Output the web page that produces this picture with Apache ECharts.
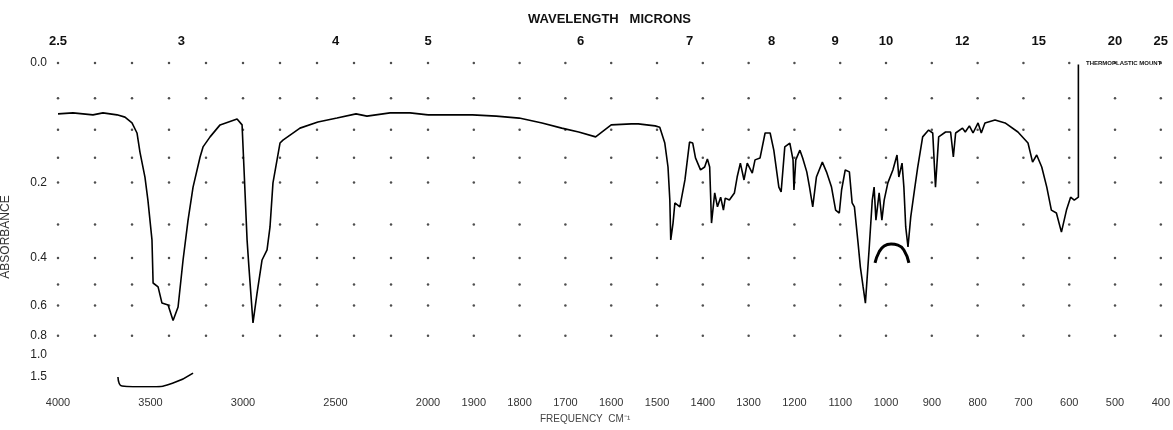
<!DOCTYPE html>
<html><head><meta charset="utf-8">
<script src="https://cdn.jsdelivr.net/npm/echarts@6/dist/echarts.min.js"></script>
<style>html,body{margin:0;padding:0;background:#fff}#c{width:1173px;height:430px}</style>
</head><body><div id="c"></div>
<script>
// Top axis: wavelength (microns)
const wavelengthTicks = [2.5, 3, 4, 5, 6, 7, 8, 9, 10, 12, 15, 20, 25];
// Left axis: absorbance labels (scale is linear in transmittance)
const absorbanceTicks = [0, 0.2, 0.4, 0.6, 0.8, 1.0, 1.5];
// Chart-paper dot grid
const dotFreqHigh = [4000, 3800, 3600, 3400, 3200, 3000, 2800, 2600, 2400, 2200];
const dotFreqLow = [2000, 1900, 1800, 1700, 1600, 1500, 1400, 1300, 1200, 1100, 1000, 900, 800, 700, 600, 500, 400];
const dotAbs = [0, 0.05, 0.1, 0.15, 0.2, 0.3, 0.4, 0.5, 0.6, 0.8];

// Spectrum [frequency cm-1, transmittance %], 4000-2000 section
const spectrumHigh = [[4000,84.3],[3919,84.6],[3811,84.0],[3757,84.6],[3681,84.0],[3638,83.3],[3600,81.5],[3573,78.4],[3557,72.5],[3530,64.8],[3514,57.7],[3492,45.4],[3486,32.1],[3459,30.9],[3438,25.9],[3405,25.3],[3378,20.5],[3351,24.7],[3324,39.2],[3297,51.5],[3270,61.7],[3232,71.0],[3216,74.1],[3178,77.2],[3124,80.9],[3032,82.7],[3005,80.9],[2995,67.9],[2978,45.4],[2968,37.0],[2946,19.8],[2924,29.0],[2897,39.2],[2870,42.3],[2854,49.4],[2838,63.0],[2800,75.3],[2784,76.2],[2692,79.9],[2595,81.8],[2492,83.0],[2389,84.3],[2330,83.6],[2205,84.6],[2097,84.6],[2000,84.0]];
// 2000-400 section
const spectrumLow = [[2000,84.0],[1903,84.0],[1851,83.6],[1801,83.0],[1751,81.5],[1708,79.9],[1671,78.7],[1634,77.2],[1600,80.9],[1556,81.2],[1541,81.2],[1504,80.6],[1494,80.2],[1483,75.3],[1476,67.9],[1472,57.7],[1470,45.4],[1465,50.6],[1461,56.8],[1450,55.6],[1439,63.9],[1429,75.6],[1422,75.3],[1416,70.7],[1405,67.0],[1396,67.9],[1390,70.4],[1385,67.9],[1381,50.6],[1374,59.9],[1368,55.6],[1361,58.6],[1355,54.6],[1351,58.3],[1342,57.7],[1331,59.9],[1325,64.8],[1318,69.1],[1310,63.9],[1303,69.1],[1292,66.0],[1286,70.1],[1275,70.7],[1264,78.4],[1253,78.4],[1245,73.1],[1234,61.7],[1229,60.2],[1221,74.1],[1210,75.3],[1203,70.1],[1201,60.8],[1197,70.1],[1188,73.1],[1182,70.7],[1173,66.4],[1167,61.7],[1160,55.6],[1152,64.8],[1139,69.4],[1130,66.4],[1119,61.7],[1110,54.6],[1102,53.7],[1097,60.8],[1089,67.0],[1080,66.4],[1074,56.8],[1069,55.6],[1061,44.4],[1056,37.0],[1050,30.9],[1045,25.9],[1037,42.3],[1030,57.7],[1026,61.7],[1022,51.5],[1015,59.9],[1009,51.5],[1004,57.7],[996,63.0],[985,67.0],[976,71.6],[972,64.8],[965,69.1],[961,61.7],[957,49.4],[952,43.2],[946,52.5],[937,61.7],[931,67.6],[920,77.2],[907,79.3],[898,78.4],[892,61.7],[885,77.2],[870,78.7],[859,78.7],[853,71.0],[848,78.4],[833,79.9],[827,78.7],[818,80.6],[810,78.4],[799,81.5],[792,78.4],[784,81.5],[762,82.4],[740,81.5],[712,78.7],[690,75.3],[680,69.4],[671,71.6],[660,67.9],[649,61.7],[639,54.6],[628,53.7],[617,47.8],[606,54.6],[597,58.6],[589,57.7],[580,58.6],[580,99.5]];
// Secondary pen traces
const arcTrace = [[1024,38.3],[1015,41.7],[1004,43.5],[989,44.1],[974,43.8],[961,42.3],[950,38.3]];
const baseTrace = [[3676,3.1],[3654,0.3],[3595,0.1],[3486,0.1],[3378,1.2],[3270,4.3]];

const toT = a => 100 * Math.pow(10, -a);
const toCm = um => 10000 / um;
const topHigh = wavelengthTicks.map(toCm).filter(v => v > 2000 + 1e-6);
const topLow = wavelengthTicks.map(toCm).filter(v => v <= 2000 + 1e-6);
const yTicks = absorbanceTicks.map(toT);

function dots(freqs) {
  const out = [];
  freqs.forEach(f => dotAbs.forEach(a => out.push([f, toT(a)])));
  return out;
}

const chart = echarts.init(document.getElementById('c'), null, {renderer: 'canvas'});
const font = 'Liberation Sans, Arial, sans-serif';
const topLabel = {
  margin: 15, fontSize: 13, fontWeight: 'bold', color: '#111', fontFamily: font,
  formatter: v => String(Math.round(10000 / v * 10) / 10)
};
const bottomLabel = {margin: 10, fontSize: 11, color: '#333', fontFamily: font};

chart.setOption({
  animation: false,
  backgroundColor: '#fff',
  grid: [
    {left: 58, width: 370, top: 63, height: 324},
    {left: 428, width: 739, top: 63, height: 324}
  ],
  xAxis: [
    {type: 'value', gridIndex: 0, min: 2000, max: 4000, interval: 500, inverse: true, position: 'bottom',
     axisLine: {show: false}, axisTick: {show: false}, splitLine: {show: false},
     axisLabel: Object.assign({}, bottomLabel, {formatter: v => v === 2000 ? '' : String(v)})},
    {type: 'value', gridIndex: 1, min: 400, max: 2000, interval: 100, inverse: true, position: 'bottom',
     axisLine: {show: false}, axisTick: {show: false}, splitLine: {show: false},
     axisLabel: Object.assign({}, bottomLabel, {showMinLabel: true, showMaxLabel: true, formatter: v => String(v)})},
    {type: 'value', gridIndex: 0, min: 2000, max: 4000, inverse: true, position: 'top',
     axisLine: {show: false}, axisTick: {show: false, customValues: topHigh}, splitLine: {show: false},
     axisLabel: Object.assign({}, topLabel, {customValues: topHigh})},
    {type: 'value', gridIndex: 1, min: 400, max: 2000, inverse: true, position: 'top',
     axisLine: {show: false}, axisTick: {show: false, customValues: topLow}, splitLine: {show: false},
     axisLabel: Object.assign({}, topLabel, {customValues: topLow})}
  ],
  yAxis: [
    {type: 'value', gridIndex: 0, min: 0, max: 100,
     axisLine: {show: false}, axisTick: {show: false, customValues: yTicks}, splitLine: {show: false},
     axisLabel: {customValues: yTicks, margin: 11, fontSize: 12, color: '#222', fontFamily: font,
       formatter: v => (Math.round(-Math.log10(v / 100) * 10) / 10).toFixed(1)}},
    {type: 'value', gridIndex: 1, min: 0, max: 100, show: false}
  ],
  graphic: [
    {type: 'text', left: 528, top: 13, style: {text: 'WAVELENGTH   MICRONS', font: 'bold 13px ' + font, fill: '#111'}},
    {type: 'text', rotation: Math.PI / 2, x: 6, y: 237, style: {text: 'ABSORBANCE', font: '12px ' + font, fill: '#333', align: 'center', verticalAlign: 'middle'}},
    {type: 'text', left: 540, top: 414, style: {text: 'FREQUENCY  CM⁻¹', font: '10px ' + font, fill: '#444'}},
    {type: 'text', left: 1086, top: 60, style: {text: 'THERMOPLASTIC MOUNT', font: 'bold 6px ' + font, fill: '#111'}}
  ],
  series: [
    {type: 'scatter', xAxisIndex: 0, yAxisIndex: 0, data: dots(dotFreqHigh), symbolSize: 2.5, itemStyle: {color: '#222'}, silent: true},
    {type: 'scatter', xAxisIndex: 1, yAxisIndex: 1, data: dots(dotFreqLow), symbolSize: 2.5, itemStyle: {color: '#222'}, silent: true},
    {type: 'line', xAxisIndex: 0, yAxisIndex: 0, data: spectrumHigh, showSymbol: false, lineStyle: {color: '#000', width: 1.6}, silent: true},
    {type: 'line', xAxisIndex: 1, yAxisIndex: 1, data: spectrumLow, showSymbol: false, lineStyle: {color: '#000', width: 1.6}, silent: true},
    {type: 'line', xAxisIndex: 1, yAxisIndex: 1, data: arcTrace, showSymbol: false, smooth: true, lineStyle: {color: '#000', width: 3}, silent: true},
    {type: 'line', xAxisIndex: 0, yAxisIndex: 0, data: baseTrace, showSymbol: false, smooth: true, lineStyle: {color: '#000', width: 1.6}, silent: true}
  ]
});
</script></body></html>
